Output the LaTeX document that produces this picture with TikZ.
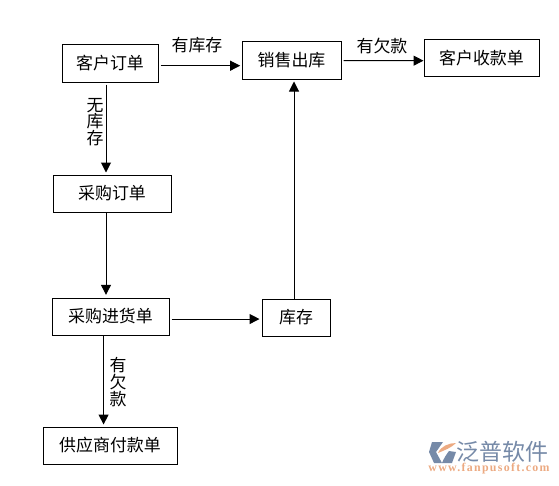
\documentclass[tikz,border=0pt]{standalone}
\usepackage{fontspec}
\setmainfont{Noto Sans CJK SC}
\newfontfamily\logofont[LetterSpace=11]{Liberation Serif}
\usetikzlibrary{arrows.meta}
\tikzset{
    docbox/.style={draw=black,line width=0.75pt,minimum height=27.75pt,inner sep=0pt,font=\fontsize{12.7}{15}\selectfont},
    flow/.style={draw=black,line width=0.75pt,-{Triangle[length=7.5pt,width=7.5pt]}},
    flowlabel/.style={inner sep=0pt,font=\fontsize{12.7}{12.6}\selectfont,align=center}
}
\definecolor{logoblue}{RGB}{118,138,168}
\definecolor{logoorange}{RGB}{236,170,130}
\begin{document}
\begin{tikzpicture}[x=0.75pt,y=-0.75pt]
    \useasboundingbox (0,0) rectangle (559,485);
    \node[docbox,minimum width=72pt] (custorder) at (110,63.5) {客户订单};
    \node[docbox,minimum width=74.25pt] (salesout) at (291.5,60.5) {销售出库};
    \node[docbox,minimum width=86.25pt] (receipt) at (481.5,58) {客户收款单};
    \node[docbox,minimum width=88.5pt] (purchase) at (112,193.5) {采购订单};
    \node[docbox,minimum width=87.75pt] (stockin) at (110.5,316.5) {采购进货单};
    \node[docbox,minimum width=51pt] (stock) at (296,317.5) {库存};
    \node[docbox,minimum width=100.5pt] (supplierpay) at (110,445.5) {供应商付款单};
    \draw[flow] ([xshift=1.5pt,yshift=-1.65pt]custorder.east) -- ([xshift=-1pt,yshift=-3.9pt]salesout.west);
    \draw[flow] ([xshift=1.5pt,yshift=-0.15pt]salesout.east) -- ([yshift=-2pt]receipt.west);
    \draw[flow] ([xshift=-3pt,yshift=-1.5pt]custorder.south) -- ([xshift=-4.5pt,yshift=1.5pt]purchase.north);
    \draw[flow] ([xshift=-4.5pt]purchase.south) -- ([xshift=-3.375pt,yshift=2pt]stockin.north);
    \draw[flow] ([xshift=1.5pt,yshift=-1.9pt]stockin.east) -- ([xshift=-1.5pt,yshift=-1.15pt]stock.west);
    \draw[flow] ([xshift=-1.5pt]stock.north) -- ([xshift=1.875pt,yshift=-1.5pt]salesout.south);
    \draw[flow] ([xshift=-5.2pt]stockin.south) -- ([xshift=-5.2pt,yshift=1.5pt]stockin.south |- supplierpay.north);
    \node[flowlabel] (lblinstock) at (197,45) {有库存};
    \node[flowlabel] (lblowe) at (382,46) {有欠款};
    \node[flowlabel] (lblnostock) at (95,122) {无\\库\\存};
    \node[flowlabel] (lblsupowe) at (118,382) {有\\欠\\款};
    \fill[logoblue] (443,442) -- (432,442) -- (429,452) -- (434,463) -- (442,463) -- (436,452) -- cycle;
    \fill[logoorange] (438,453) .. controls (441,446) and (449,443) .. (456,443) .. controls (451,448) and (445,450) .. (438,453) -- cycle;
    \fill[logoblue] (442,463) -- (452,463) -- (456,452) -- (449,451) .. controls (446,455) and (444,458) .. (442,463) -- cycle;
    \node[inner sep=0pt,text=logoblue,font=\fontsize{17.2}{18}\selectfont] (logoname) at (502.5,451.5) {泛普软件};
    \node[inner sep=0pt,text=logoorange,font=\logofont\fontsize{8.9}{10}\selectfont\bfseries] (logourl) at (489,469) {www.fanpusoft.com};
\end{tikzpicture}
\end{document}
